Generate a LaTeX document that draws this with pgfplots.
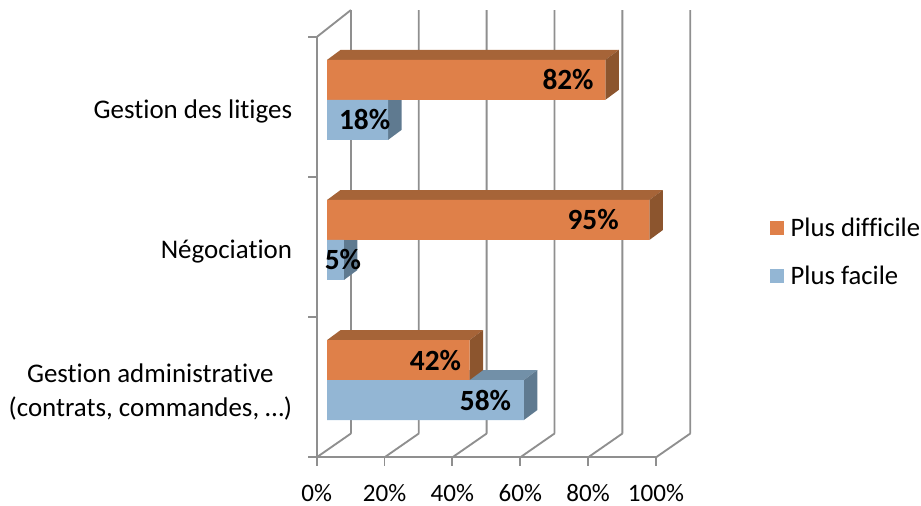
\documentclass[border=0pt]{standalone}
\usepackage{fontspec}
\setmainfont{Carlito}[Ligatures=NoCommon]
\usepackage{pgfplots}
\usepackage{pgfplotstable}
\pgfplotsset{compat=1.18}
\definecolor{frameg}{HTML}{8F8F8F}
\definecolor{ofront}{HTML}{DF8049}
\definecolor{otop}{HTML}{A66438}
\definecolor{oside}{HTML}{8C552E}
\definecolor{bfront}{HTML}{93B6D4}
\definecolor{btop}{HTML}{7290A8}
\definecolor{bside}{HTML}{5F7A90}
\pgfplotstableread{
y v dx
2 82 -27.9
1 95 -42.2
0 42 -25.5
}\hard
\pgfplotstableread{
y v dx
2 18 -17.6
1 5 -0.75
0 58 -28.7
}\easy
\begin{document}
\begin{tikzpicture}
\path[use as bounding box] (0,0) rectangle (690.75pt,379.5pt);
% frame axis
\begin{axis}[
  at={(237.5pt,36.5pt)}, anchor=south west, scale only axis,
  width=254.5pt, height=315.2pt,
  xmin=0, xmax=100, ymin=-0.5, ymax=2.5, clip=false,
  axis x line*=bottom, axis y line*=left,
  axis line style={frameg, line width=1.4pt, -},
  xtick={0,20,40,60,80,100},
  xticklabels={0\%,20\%,40\%,60\%,80\%,100\%},
  ytick={0,1,2},
  yticklabels={{Gestion administrative\\(contrats, commandes, …)},Négociation,Gestion des litiges},
  minor ytick={-0.5,0.5,1.5,2.5},
  major y tick style={draw=none},
  minor y tick style={frameg, line width=1.4pt},
  major x tick style={frameg, line width=1.4pt},
  tick align=outside, major tick length=6.4pt, minor tick length=6.4pt,
  x tick label style={font=\fontsize{18.8pt}{20pt}\selectfont, text=black, yshift=-10.5pt},
  y tick label style={font=\fontsize{20.2pt}{25.5pt}\selectfont, text=black, align=center, xshift=-8.5pt, yshift=-3.2pt},
]
\addplot[frameg, line width=1.4pt, forget plot, unbounded coords=jump] coordinates {
 (0,2.5) (10.1,2.693) (nan,nan)
 (10.1,-0.33) (10.1,2.693) (nan,nan)
 (30.1,-0.33) (30.1,2.693) (nan,nan)
 (50.1,-0.33) (50.1,2.693) (nan,nan)
 (70.1,-0.33) (70.1,2.693) (nan,nan)
 (90.1,-0.33) (90.1,2.693) (nan,nan)
 (110.1,-0.33) (110.1,2.693) (nan,nan)
 (0,-0.5) (10.1,-0.33) (nan,nan)
 (20,-0.5) (30.1,-0.33) (nan,nan)
 (40,-0.5) (50.1,-0.33) (nan,nan)
 (60,-0.5) (70.1,-0.33) (nan,nan)
 (80,-0.5) (90.1,-0.33) (nan,nan)
 (100,-0.5) (110.1,-0.33)
};
\end{axis}
% bars axis
\begin{axis}[
  at={(245.25pt,41.9pt)}, anchor=south west, scale only axis,
  width=254.5pt, height=315.2pt,
  xmin=0, xmax=100, ymin=-0.5, ymax=2.5, clip=false, hide axis,
  /pgf/number format/assume math mode=true,
  legend image code/.code={\fill[#1] (0pt,-5.25pt) rectangle (10.5pt,5.25pt);},
  legend style={at={(1.293,0.471)}, anchor=west, draw=none, fill=none,
    font=\fontsize{20pt}{22pt}\selectfont, row sep=16.5pt,
    /tikz/every even column/.append style={column sep=0pt},
    nodes={inner xsep=5pt}},
  legend cell align=left,
]
% blue tops and sides
\addplot[fill=btop,draw=none,forget plot] coordinates {(0,2)(18,2)(21.98,2.0713)(3.98,2.0713)} --cycle;
\addplot[fill=bside,draw=none,forget plot] coordinates {(18,2)(21.98,2.0713)(21.98,1.786)(18,1.7147)} --cycle;
\addplot[fill=btop,draw=none,forget plot] coordinates {(0,1)(5,1)(8.98,1.0713)(3.98,1.0713)} --cycle;
\addplot[fill=bside,draw=none,forget plot] coordinates {(5,1)(8.98,1.0713)(8.98,0.786)(5,0.7147)} --cycle;
\addplot[fill=btop,draw=none,forget plot] coordinates {(0,0)(58,0)(61.98,0.0713)(3.98,0.0713)} --cycle;
\addplot[fill=bside,draw=none,forget plot] coordinates {(58,0)(61.98,0.0713)(61.98,-0.214)(58,-0.2853)} --cycle;
% orange tops and sides
\addplot[fill=otop,draw=none,forget plot] coordinates {(0,2.2853)(82,2.2853)(85.98,2.3566)(3.98,2.3566)} --cycle;
\addplot[fill=oside,draw=none,forget plot] coordinates {(82,2.2853)(85.98,2.3566)(85.98,2.0713)(82,2)} --cycle;
\addplot[fill=otop,draw=none,forget plot] coordinates {(0,1.2853)(95,1.2853)(98.98,1.3566)(3.98,1.3566)} --cycle;
\addplot[fill=oside,draw=none,forget plot] coordinates {(95,1.2853)(98.98,1.3566)(98.98,1.0713)(95,1)} --cycle;
\addplot[fill=otop,draw=none,forget plot] coordinates {(0,0.2853)(42,0.2853)(45.98,0.3566)(3.98,0.3566)} --cycle;
\addplot[fill=oside,draw=none,forget plot] coordinates {(42,0.2853)(45.98,0.3566)(45.98,0.0713)(42,0)} --cycle;
% front faces
\addplot[xbar, bar width=30pt, bar shift=15pt, fill=ofront, draw=none,
  point meta=x, visualization depends on={\thisrow{dx}\as\dxv},
  nodes near coords={\pgfmathprintnumber{\pgfplotspointmeta}\%},
  nodes near coords style={anchor=center, xshift=\dxv pt, yshift=15pt, text=black,
    font=\fontsize{22pt}{24pt}\selectfont\bfseries}]
  table[x=v,y=y]{\hard};
\addlegendentry{Plus difficile}
\addplot[xbar, bar width=30pt, bar shift=-15pt, fill=bfront, draw=none,
  point meta=x, visualization depends on={\thisrow{dx}\as\dxv},
  nodes near coords={\pgfmathprintnumber{\pgfplotspointmeta}\%},
  nodes near coords style={anchor=center, xshift=\dxv pt, yshift=-15pt, text=black,
    font=\fontsize{22pt}{24pt}\selectfont\bfseries}]
  table[x=v,y=y]{\easy};
\addlegendentry{Plus facile}
\end{axis}
\end{tikzpicture}
\end{document}
